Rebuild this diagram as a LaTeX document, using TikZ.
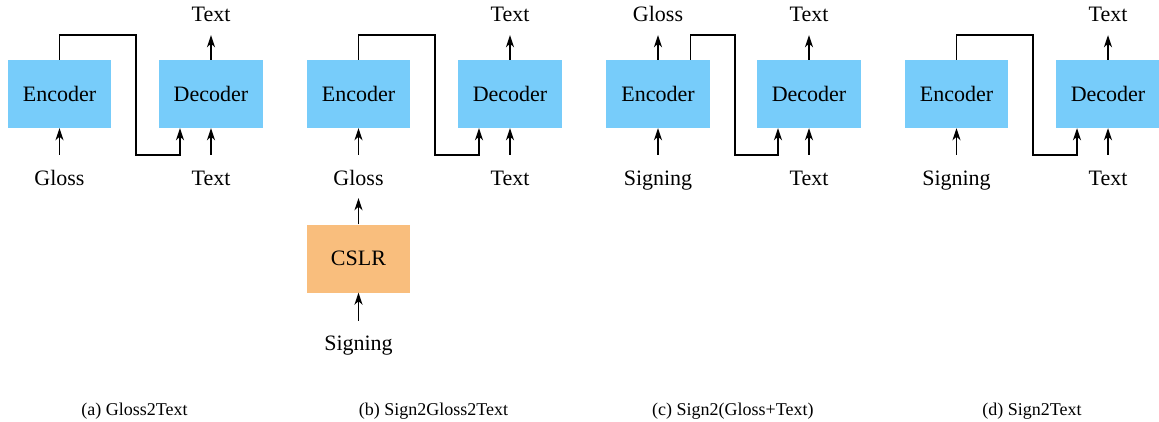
\documentclass[tikz,border=0pt]{standalone}
\usepackage{fontspec}
\setmainfont{Liberation Serif}
\usetikzlibrary{arrows.meta}
\definecolor{boxblue}{RGB}{119,204,250}
\definecolor{boxorange}{RGB}{249,190,125}
\begin{document}
\begin{tikzpicture}[x=1pt,y=-1pt,
  blk/.style={fill=boxblue,draw=none,minimum width=103.5pt,minimum height=68pt,inner sep=0pt,font=\fontsize{22}{26}\selectfont},
  cslr/.style={blk,fill=boxorange},
  lab/.style={anchor=base,inner sep=0pt,text height=15pt,text depth=5pt,font=\fontsize{22}{26}\selectfont},
  captxt/.style={anchor=base,inner sep=0pt,font=\fontsize{18}{22}\selectfont},
  arr/.style={line width=1.5pt,-{Stealth[length=12pt,width=8pt,inset=3.5pt]}},
  inarr/.style={arr,shorten <=15pt},
  outarr/.style={arr,shorten >=8.3pt},
  wire/.style={line width=1.5pt,-{Stealth[length=12pt,width=8pt,inset=3.5pt]}}]
\useasboundingbox (0,0) rectangle (1159,421);

% ---------- (a) Gloss2Text ----------
\node[blk] (ea) at (59.5,94) {\raisebox{-1pt}{Encoder}};
\node[blk] (da) at (211,94) {\raisebox{-1pt}{Decoder}};
\node[lab] (ga) at (59.5,185) {Gloss};
\node[lab] (tia) at (211,185) {Text};
\node[lab] (toa) at (211,21.7) {Text};
\coordinate (ka) at (136,35);
\coordinate (ja) at (180,155);
\draw[inarr] (ga.north) -- (ea.south);
\draw[inarr] (tia.north) -- (da.south);
\draw[outarr] (da.north) -- (toa.south);
\draw[wire] (ea.north) |- (ka) |- (ja) -- (ja |- da.south);
\node[captxt] (capa) at (134.5,415.5) {(a) Gloss2Text};

% ---------- (b) Sign2Gloss2Text ----------
\node[blk] (eb) at (358.5,94) {\raisebox{-1pt}{Encoder}};
\node[blk] (db) at (510,94) {\raisebox{-1pt}{Decoder}};
\node[lab] (gb) at (358.5,185) {Gloss};
\node[lab] (tib) at (510,185) {Text};
\node[lab] (tob) at (510,21.7) {Text};
\node[cslr] (cb) at (358.5,258.5) {\raisebox{-1pt}{CSLR}};
\node[lab] (sb) at (358.5,350) {Signing};
\coordinate (kb) at (435,35);
\coordinate (jb) at (479,155);
\draw[inarr] (gb.north) -- (eb.south);
\draw[inarr] (tib.north) -- (db.south);
\draw[outarr] (db.north) -- (tob.south);
\draw[wire] (eb.north) |- (kb) |- (jb) -- (jb |- db.south);
\draw[arr,shorten >=8pt] (cb.north) -- (gb.south);
\draw[arr,shorten <=14pt] (sb.north) -- (cb.south);
\node[captxt] (capb) at (433.5,415.5) {(b) Sign2Gloss2Text};

% ---------- (c) Sign2(Gloss+Text) ----------
\node[blk] (ec) at (658,94) {\raisebox{-1pt}{Encoder}};
\node[blk] (dc) at (809,94) {\raisebox{-1pt}{Decoder}};
\node[lab] (sc) at (658,185) {Signing};
\node[lab] (tic) at (809,185) {Text};
\node[lab] (toc) at (809,21.7) {Text};
\node[lab] (goc) at (658,21.7) {Gloss};
\coordinate (kc) at (735,35);
\coordinate (jc) at (778,155);
\draw[inarr] (sc.north) -- (ec.south);
\draw[inarr] (tic.north) -- (dc.south);
\draw[outarr] (dc.north) -- (toc.south);
\draw[outarr] (ec.north) -- (goc.south);
\draw[wire] ([xshift=32.7pt]ec.north) |- (kc) |- (jc) -- (jc |- dc.south);
\node[captxt] (capc) at (732.8,415.5) {(c) Sign2(Gloss+Text)};

% ---------- (d) Sign2Text ----------
\node[blk] (ed) at (956.5,94) {\raisebox{-1pt}{Encoder}};
\node[blk] (dd) at (1108,94) {\raisebox{-1pt}{Decoder}};
\node[lab] (sd) at (956.5,185) {Signing};
\node[lab] (tid) at (1108,185) {Text};
\node[lab] (tod) at (1108,21.7) {Text};
\coordinate (kd) at (1033,35);
\coordinate (jd) at (1077,155);
\draw[inarr] (sd.north) -- (ed.south);
\draw[inarr] (tid.north) -- (dd.south);
\draw[outarr] (dd.north) -- (tod.south);
\draw[wire] (ed.north) |- (kd) |- (jd) -- (jd |- dd.south);
\node[captxt] (capd) at (1032,415.5) {(d) Sign2Text};
\end{tikzpicture}
\end{document}
